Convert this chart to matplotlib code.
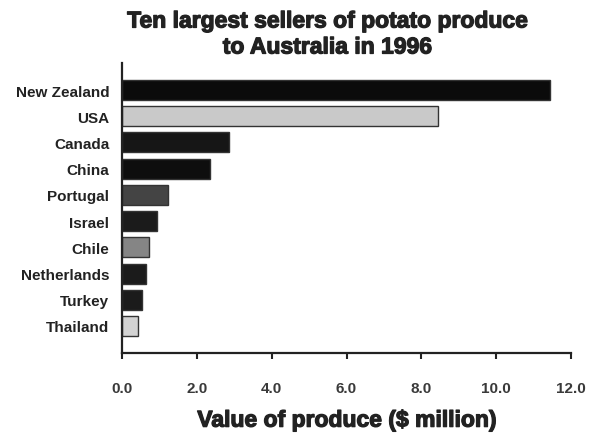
import matplotlib
matplotlib.use('Agg')
import matplotlib.pyplot as plt
import matplotlib.patheffects as pe

plt.rcParams['font.family'] = ['Liberation Sans', 'DejaVu Sans']

countries = ["New Zealand", "USA", "Canada", "China", "Portugal",
             "Israel", "Chile", "Netherlands", "Turkey", "Thailand"]
values = [11.45, 8.45, 2.85, 2.35, 1.23, 0.93, 0.72, 0.64, 0.53, 0.42]
bar_colors = ["#0b0b0b", "#c9c9c9", "#161616", "#0e0e0e", "#444444",
              "#1b1b1b", "#858585", "#1b1b1b", "#1b1b1b", "#d2d2d2"]
x_ticks = [0.0, 2.0, 4.0, 6.0, 8.0, 10.0, 12.0]

W, H = 597, 435
fig = plt.figure(figsize=(W / 100, H / 100), dpi=100)
ax = fig.add_axes([122 / W, (H - 354) / H, (571 - 122) / W, (354 - 64) / H])

# heavier look for the big labels (the original uses a black-weight font)
heavy = [pe.withStroke(linewidth=0.9, foreground="#222222")]

ypos = list(range(len(countries)))
ax.barh(ypos, values, height=0.76, color=bar_colors,
        edgecolor="#333333", linewidth=1.0)

ax.set_ylim(10.03, -1.03)
ax.set_xlim(0, 12)
ax.set_yticks(ypos)
ax.set_yticklabels(countries, fontsize=11, fontweight="bold", color="#222222")
ax.tick_params(axis="y", length=0, pad=9)
ax.set_xticks(x_ticks)
ax.set_xticklabels([f"{t:.1f}" for t in x_ticks], fontsize=11,
                   fontweight="bold", color="#3a3a3a")
ax.tick_params(axis="x", length=4, width=1.5, pad=16, color="#222222")

for s in ["top", "right"]:
    ax.spines[s].set_visible(False)
for s in ["left", "bottom"]:
    ax.spines[s].set_linewidth(1.6)
    ax.spines[s].set_color("#222222")

xl = ax.set_xlabel("Value of produce ($ million)", fontsize=16.5,
                   fontweight="bold", color="#222222", labelpad=10)
xl.set_path_effects(heavy)

t1 = fig.text(327 / W, 1 - 22 / H, "Ten largest sellers of potato produce",
              ha="center", va="center", fontsize=16.5, fontweight="bold", color="#222222")
t2 = fig.text(327 / W, 1 - 48 / H, "to Australia in 1996",
              ha="center", va="center", fontsize=16.5, fontweight="bold", color="#222222")
t1.set_path_effects(heavy)
t2.set_path_effects(heavy)

fig.savefig("out.png", dpi=100)
